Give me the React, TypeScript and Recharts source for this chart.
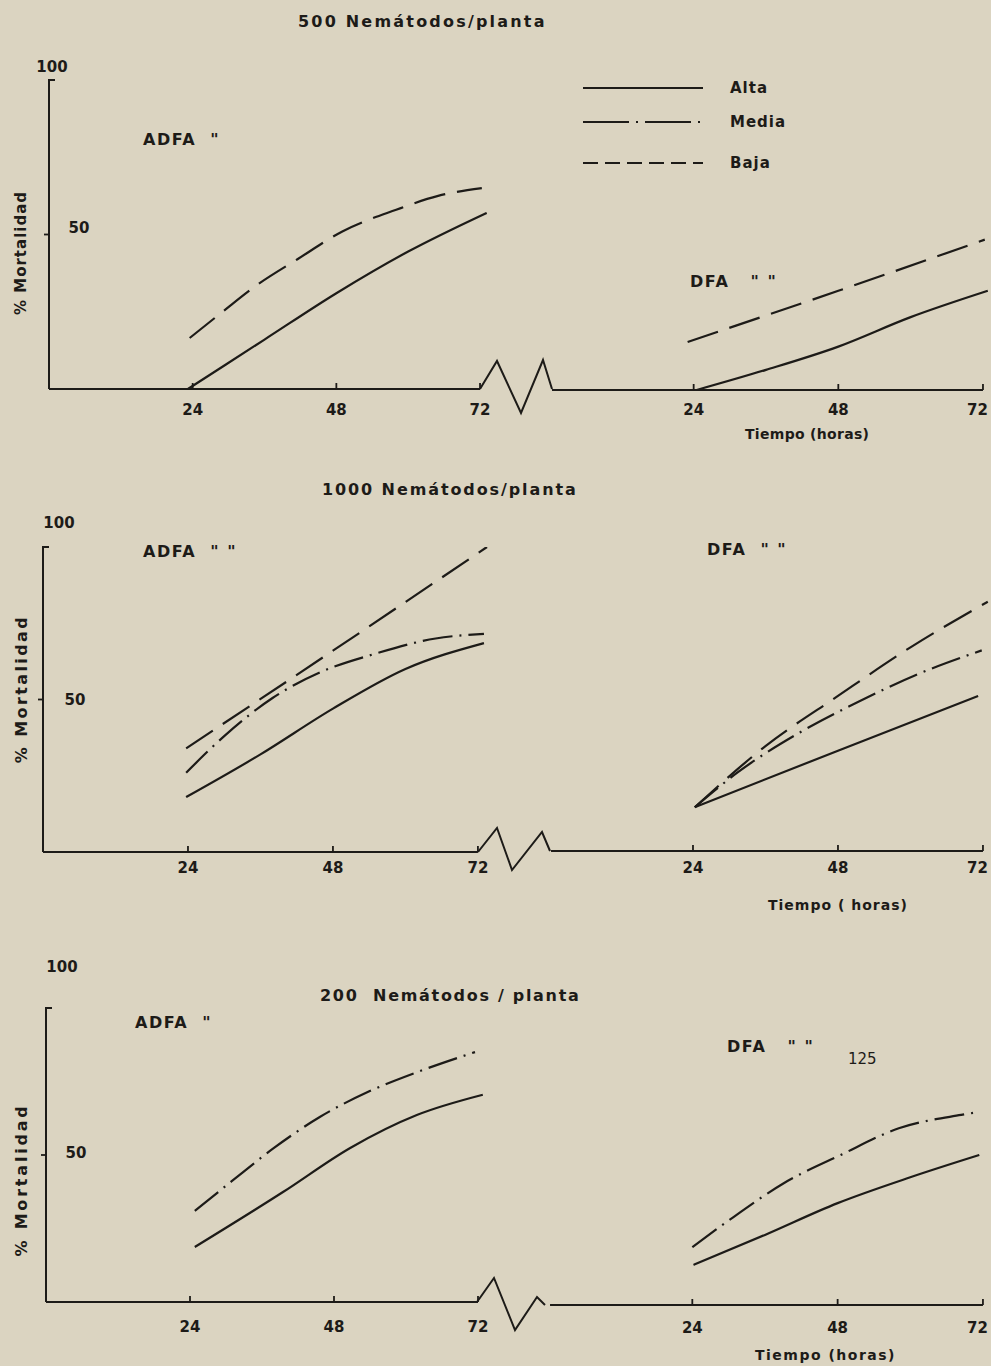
import React from 'react';
import { LineChart, Line, XAxis, YAxis, ReferenceLine } from 'recharts';

type Pt = [number, number];
type Level = 'Alta' | 'Media' | 'Baja';

// % mortalidad por hora
// 500 nematodos / planta
const adfa500Alta: Pt[] = [[23.2, 0], [36, 16], [48, 31], [60, 44.5], [73.1, 57]];
const adfa500Baja: Pt[] = [[23.5, 16.5], [29, 25], [35, 34], [41.5, 42], [49, 51], [58, 58], [65, 62.5], [72.3, 65]];
const dfa500Alta: Pt[] = [[24.5, 0], [36, 6.5], [48, 14], [60, 23.5], [72.8, 32]];
const dfa500Baja: Pt[] = [[23, 15.5], [48, 32], [72.3, 48.5]];

// 1000 nematodos / planta
const adfa1000Alta: Pt[] = [[23.7, 18], [36, 32], [48, 47], [60, 60], [73, 68.5]];
const adfa1000Media: Pt[] = [[23.7, 26], [30, 38], [38, 50.5], [46, 59], [55, 65], [65, 70], [73, 71.5]];
const adfa1000Baja: Pt[] = [[23.7, 34], [48, 66], [73.5, 100]];
const dfa1000Alta: Pt[] = [[24.3, 14.4], [48, 33], [71.2, 51]];
const dfa1000Media: Pt[] = [[24.3, 14.4], [31.5, 26], [41.7, 39], [51.3, 49], [61, 58], [71.8, 66]];
const dfa1000Baja: Pt[] = [[24.3, 14.4], [36, 34.5], [48, 51], [60, 67], [72.8, 82]];

// 200 nematodos / planta
const adfa200Alta: Pt[] = [[24.8, 18.7], [39.5, 37.4], [50.7, 52.4], [61.8, 63.6], [72.8, 70.5]];
const adfa200Media: Pt[] = [[24.8, 31], [30.9, 41], [38, 52.4], [45.7, 63], [53.7, 71.5], [62, 78.3], [71.5, 85]];
const dfa200Alta: Pt[] = [[24.2, 13.5], [36, 23.6], [48, 34.3], [60, 43], [71.4, 50.5]];
const dfa200Media: Pt[] = [[24, 19.5], [30.8, 29.6], [39.1, 41], [48.5, 50.5], [58.1, 59.5], [68.4, 64], [71.4, 65]];

const hourTicks = [24, 48, 72];
const pctTicks = [50, 100];
const levels: Level[] = ['Alta', 'Media', 'Baja'];

const INK = '#1d1b18';
const PAPER = '#dbd4c1';
const FONT = '"DejaVu Sans", Arial, sans-serif';

const lineDash: Record<Level, string | undefined> = {
  Alta: undefined,
  Media: '30 7 2 7',
  Baja: '32 12',
};
const legendDash: Record<Level, string | undefined> = {
  Alta: undefined,
  Media: '46 7 2 7',
  Baja: '15 7',
};

type Series = { level: Level; pts: Pt[] };
type YCfg = { dx100: number; dy100: number; dx50: number; dy50: number };

type SubProps = {
  left: number;
  top: number;
  width: number;
  height: number;
  mt: number;
  ml: number;
  mr: number;
  yw: number;
  xMax: number;
  axisStart: number;
  labelDy: number;
  series: Series[];
  y?: YCfg;
  rightSide?: boolean;
};

const makeXTick = (dy: number, rightSide: boolean) => (props: any) => {
  const { x, y, payload } = props;
  const atEdge = rightSide && payload.value === 72;
  return (
    <g>
      <line x1={x} y1={y} x2={x} y2={y - 6} stroke={INK} strokeWidth={1.8} />
      <text x={atEdge ? x + 5 : x} y={y + dy} textAnchor={atEdge ? 'end' : 'middle'} dominantBaseline="central" fill={INK}
        style={{ fontFamily: FONT, fontWeight: 700, fontSize: 15 }}>
        {payload.value}
      </text>
    </g>
  );
};

const makeYTick = (cfg: YCfg) => (props: any) => {
  const { x, y, payload } = props;
  const top = payload.value === 100;
  return (
    <g>
      {top ? (
        <line x1={x - 1} y1={y} x2={x + 6} y2={y} stroke={INK} strokeWidth={2} />
      ) : (
        <line x1={x - 5} y1={y} x2={x} y2={y} stroke={INK} strokeWidth={1.8} />
      )}
      <text
        x={x + (top ? cfg.dx100 : cfg.dx50)}
        y={y + (top ? cfg.dy100 : cfg.dy50)}
        textAnchor="middle"
        dominantBaseline="central"
        fill={INK}
        style={{ fontFamily: FONT, fontWeight: 700, fontSize: 15 }}
      >
        {payload.value}
      </text>
    </g>
  );
};

const LegendBox = ({ left, top }: { left: number; top: number }) => (
  <svg width={230} height={100} style={{ position: 'absolute', left, top }}>
    {levels.map((lv, i) => {
      const yy = [8, 42, 83][i];
      return (
        <g key={lv}>
          <line x1={3} y1={yy} x2={123} y2={yy} stroke={INK} strokeWidth={2} strokeDasharray={legendDash[lv]} />
          <text x={150} y={yy} dominantBaseline="central" fill={INK}
            style={{ fontFamily: FONT, fontWeight: 700, fontSize: 15, letterSpacing: 1 }}>
            {lv}
          </text>
        </g>
      );
    })}
  </svg>
);

const SubChart = (p: SubProps) => (
  <div style={{ position: 'absolute', left: p.left, top: p.top }}>
    <LineChart width={p.width} height={p.height} margin={{ top: p.mt, right: p.mr, left: p.ml, bottom: 0 }}>
      <XAxis
        type="number"
        dataKey="h"
        domain={[0, p.xMax]}
        ticks={hourTicks}
        interval={0}
        height={40}
        axisLine={false}
        tickLine={false}
        tickSize={0}
        tickMargin={0}
        tick={makeXTick(p.labelDy, !!p.rightSide)}
      />
      <YAxis
        type="number"
        domain={[0, 100]}
        ticks={pctTicks}
        hide={!p.y}
        width={p.yw}
        axisLine={{ stroke: INK, strokeWidth: 2 }}
        tickLine={false}
        tickSize={0}
        tickMargin={0}
        tick={p.y ? makeYTick(p.y) : false}
      />
      <ReferenceLine
        segment={[{ x: p.axisStart, y: 0 }, { x: 72, y: 0 }]}
        stroke={INK}
        strokeWidth={2}
        ifOverflow="visible"
      />
      {p.series.map((s) => (
        <Line
          key={s.level}
          data={s.pts.map(([h, v]) => ({ h, v }))}
          dataKey="v"
          type="monotone"
          stroke={INK}
          strokeWidth={2.2}
          strokeDasharray={lineDash[s.level]}
          dot={false}
          isAnimationActive={false}
        />
      ))}
    </LineChart>
  </div>
);

type TxtProps = { x: number; y: number; text: string; size?: number; ls?: number; weight?: number; rot?: boolean };
const Txt = ({ x, y, text, size = 15, ls = 1, weight = 700, rot = false }: TxtProps) => (
  <div
    style={{
      position: 'absolute',
      left: x,
      top: y,
      transform: rot ? 'translate(-50%, -50%) rotate(-90deg)' : 'translateY(-50%)',
      fontFamily: FONT,
      fontSize: size,
      fontWeight: weight,
      letterSpacing: ls,
      lineHeight: 1,
      whiteSpace: 'pre',
      color: INK,
    }}
  >
    {text}
  </div>
);

const breaks: Pt[][] = [
  [[480, 389], [497, 361], [521, 413], [543, 360], [552, 389]],
  [[478, 852], [497, 828], [512, 870], [542, 832], [550, 851]],
  [[477, 1302], [494, 1278], [515, 1330], [537, 1297], [545, 1305]],
];

export default function App() {
  return (
    <div style={{ position: 'absolute', left: 0, top: 0, width: 991, height: 1366, background: PAPER, overflow: 'hidden' }}>
      {/* 500 */}
      <Txt x={298} y={22} text="500 Nemátodos/planta" size={16} ls={2.2} />
      <Txt x={21} y={253} text="% Mortalidad" rot ls={1} />
      <Txt x={143} y={140} text={'ADFA  "'} size={16} ls={1.5} />
      <Txt x={690} y={282} text={'DFA   " "'} size={16} ls={1.5} />
      <Txt x={745} y={434} text="Tiempo (horas)" size={14} ls={0.3} />
      <SubChart left={0} top={0} width={500} height={429} mt={80} ml={0} mr={8} yw={49} xMax={74} axisStart={0} labelDy={21}
        y={{ dx100: 3, dy100: -13, dx50: 30, dy50: -7 }}
        series={[{ level: 'Alta', pts: adfa500Alta }, { level: 'Baja', pts: adfa500Baja }]} />
      <SubChart left={540} top={0} width={451} height={430} mt={80} ml={9} mr={2} yw={0} xMax={73} axisStart={0.5} labelDy={20}
        rightSide
        series={[{ level: 'Alta', pts: dfa500Alta }, { level: 'Baja', pts: dfa500Baja }]} />
      <LegendBox left={580} top={80} />

      {/* 1000 */}
      <Txt x={322} y={490} text="1000 Nemátodos/planta" size={16} ls={1.9} />
      <Txt x={22} y={689} text="% Mortalidad" rot size={16} ls={2.4} />
      <Txt x={143} y={552} text={'ADFA  " "'} size={16} ls={1.5} />
      <Txt x={707} y={550} text={'DFA  " "'} size={16} ls={1.5} />
      <Txt x={768} y={905} text="Tiempo ( horas)" size={14} ls={1} />
      <SubChart left={0} top={470} width={500} height={422} mt={77} ml={0} mr={10} yw={43} xMax={74} axisStart={0} labelDy={16}
        y={{ dx100: 16, dy100: -24, dx50: 32, dy50: 0 }}
        series={[{ level: 'Alta', pts: adfa1000Alta }, { level: 'Media', pts: adfa1000Media }, { level: 'Baja', pts: adfa1000Baja }]} />
      <SubChart left={540} top={470} width={451} height={421} mt={77} ml={8} mr={2} yw={0} xMax={73} axisStart={0.5} labelDy={17}
        rightSide
        series={[{ level: 'Alta', pts: dfa1000Alta }, { level: 'Media', pts: dfa1000Media }, { level: 'Baja', pts: dfa1000Baja }]} />

      {/* 200 */}
      <Txt x={320} y={996} text="200  Nemátodos / planta" size={16} ls={1.7} />
      <Txt x={22} y={1180} text="% Mortalidad" rot size={16} ls={2.8} />
      <Txt x={135} y={1023} text={'ADFA  "'} size={16} ls={1.5} />
      <Txt x={727} y={1047} text={'DFA   " "'} size={16} ls={1.5} />
      <Txt x={848} y={1059} text="125" size={15} weight={400} ls={0} />
      <Txt x={755} y={1355} text="Tiempo (horas)" size={14} ls={1.5} />
      <SubChart left={0} top={940} width={500} height={402} mt={68} ml={0} mr={10} yw={46} xMax={74} axisStart={0} labelDy={25}
        y={{ dx100: 16, dy100: -41, dx50: 30, dy50: -2 }}
        series={[{ level: 'Alta', pts: adfa200Alta }, { level: 'Media', pts: adfa200Media }]} />
      <SubChart left={540} top={940} width={451} height={405} mt={68} ml={7} mr={2} yw={0} xMax={73} axisStart={0.5} labelDy={23}
        rightSide
        series={[{ level: 'Alta', pts: dfa200Alta }, { level: 'Media', pts: dfa200Media }]} />

      <svg width={991} height={1366} style={{ position: 'absolute', left: 0, top: 0, pointerEvents: 'none' }}>
        {breaks.map((b, i) => (
          <polyline key={i} points={b.map((q) => q.join(',')).join(' ')} fill="none" stroke={INK} strokeWidth={2} strokeLinejoin="miter" />
        ))}
      </svg>
    </div>
  );
}
